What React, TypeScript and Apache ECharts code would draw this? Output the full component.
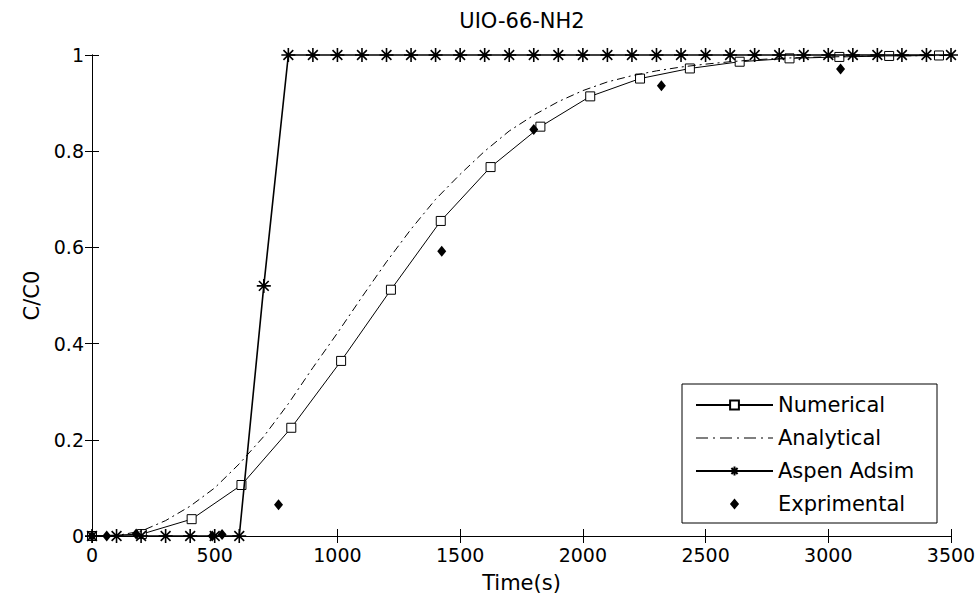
import React, { useEffect, useRef } from "react";
import * as echarts from "echarts";

const titleText = "UIO-66-NH2";
const xName = "Time(s)";
const yName = "C/C0";
const seriesNames = ["Numerical", "Analytical", "Aspen Adsim", "Exprimental"];

const numericalTime = [0, 203, 406, 609, 812, 1015, 1218, 1421, 1624, 1827, 2030, 2233, 2436, 2639, 2842, 3045, 3248, 3451];
const numericalValues = [0, 0.004, 0.035, 0.106, 0.225, 0.364, 0.512, 0.655, 0.767, 0.851, 0.914, 0.951, 0.972, 0.986, 0.993, 0.996, 0.998, 0.999];

const analyticalTime = [0, 100, 200, 300, 400, 500, 600, 700, 800, 900, 1000, 1100, 1200, 1300, 1400, 1500, 1600, 1700, 1800, 1900, 2000, 2100, 2200, 2300, 2400, 2500, 2600, 2700, 2800, 2900, 3000, 3200, 3500];
const analyticalValues = [0, 0.001, 0.01, 0.032, 0.062, 0.1, 0.15, 0.207, 0.275, 0.35, 0.422, 0.497, 0.57, 0.638, 0.7, 0.752, 0.8, 0.842, 0.875, 0.903, 0.926, 0.944, 0.957, 0.967, 0.975, 0.981, 0.986, 0.99, 0.993, 0.995, 0.996, 0.998, 0.999];

const aspenTime = [0, 100, 200, 300, 400, 500, 600, 700, 800, 900, 1000, 1100, 1200, 1300, 1400, 1500, 1600, 1700, 1800, 1900, 2000, 2100, 2200, 2300, 2400, 2500, 2600, 2700, 2800, 2900, 3000, 3100, 3200, 3300, 3400, 3500];
const aspenValues = [0, 0, 0, 0, 0, 0, 0, 0.52, 1, 1, 1, 1, 1, 1, 1, 1, 1, 1, 1, 1, 1, 1, 1, 1, 1, 1, 1, 1, 1, 1, 1, 1, 1, 1, 1, 1];

const expTime = [0, 60, 180, 490, 530, 760, 1425, 1800, 2320, 3050];
const expValues = [0, 0, 0.004, 0, 0.003, 0.065, 0.592, 0.845, 0.936, 0.971];

const xMin = 0;
const xMax = 3500;
const xInterval = 500;
const yMin = 0;
const yMax = 1;
const yInterval = 0.2;

const zip = (xs: number[], ys: number[]) => xs.map((x, i) => [x, ys[i]]);

const FONT = "DejaVu Sans";
const starPath = "path://M6,0L6,12M0,6L12,6M1.8,1.8L10.2,10.2M1.8,10.2L10.2,1.8";
const diamondPath = "path://M5,0L10,6L5,12L0,6Z";
const dashDotIcon =
  "path://M0,0h12v1.2h-12ZM17,0h2v1.2h-2ZM24,0h12v1.2h-12ZM41,0h2v1.2h-2ZM48,0h12v1.2h-12ZM65,0h2v1.2h-2ZM72,0h5v1.2h-5Z";

export default function App() {
  const ref = useRef<HTMLDivElement>(null);

  useEffect(() => {
    document.body.style.margin = "0";
    if (!ref.current) return;
    const chart = echarts.init(ref.current, undefined, { renderer: "svg" });

    const axisCommon = {
      type: "value" as const,
      axisLine: { show: true, lineStyle: { color: "#000", width: 1 } },
      axisTick: { show: true, inside: true, length: 7, lineStyle: { color: "#000", width: 1 } },
      splitLine: { show: false },
    };

    chart.setOption({
      animation: false,
      backgroundColor: "#fff",
      title: {
        text: titleText,
        left: 517,
        top: 5,
        textAlign: "center",
        textStyle: { fontFamily: FONT, fontSize: 21, fontWeight: "normal", color: "#000" },
      },
      grid: { left: 92, right: 25, top: 55, bottom: 62, containLabel: false, outerBoundsMode: "none" },
      graphic: [
        {
          type: "rect",
          shape: { x: 682, y: 384, width: 255, height: 139 },
          style: { fill: "#fff", stroke: "#000", lineWidth: 1 },
          z: 5,
          silent: true,
        },
      ],
      legend: {
        orient: "vertical",
        left: 682,
        top: 384,
        padding: [10, 12, 9, 13],
        itemWidth: 77,
        itemHeight: 11,
        itemGap: 11,
        borderWidth: 0,
        z: 10,
        textStyle: { fontFamily: FONT, fontSize: 21, lineHeight: 22, color: "#000" },
        data: [
          { name: seriesNames[0] },
          { name: seriesNames[1], icon: dashDotIcon },
          { name: seriesNames[2] },
          { name: seriesNames[3] },
        ],
      },
      xAxis: [
        {
          ...axisCommon,
          position: "bottom",
          min: xMin,
          max: xMax,
          interval: xInterval,
          name: xName,
          nameLocation: "middle",
          nameGap: 36,
          nameTextStyle: { fontFamily: FONT, fontSize: 21, color: "#000" },
          axisLabel: {
            margin: 9,
            fontFamily: FONT,
            fontSize: 19,
            color: "#000",
            formatter: (v: number) => String(v),
          },
        },
        {
          ...axisCommon,
          position: "top",
          min: xMin,
          max: xMax,
          interval: xInterval,
          axisLabel: { show: false },
        },
      ],
      yAxis: [
        {
          ...axisCommon,
          position: "left",
          min: yMin,
          max: yMax,
          interval: yInterval,
          name: yName,
          nameLocation: "middle",
          nameGap: 48,
          nameTextStyle: { fontFamily: FONT, fontSize: 21, color: "#000" },
          axisLabel: {
            margin: 8,
            fontFamily: FONT,
            fontSize: 19,
            color: "#000",
            formatter: (v: number) => String(Math.round(v * 10) / 10),
          },
        },
        {
          ...axisCommon,
          position: "right",
          min: yMin,
          max: yMax,
          interval: yInterval,
          axisLabel: { show: false },
        },
      ],
      series: [
        {
          name: seriesNames[0],
          type: "line",
          data: zip(numericalTime, numericalValues),
          symbol: "rect",
          symbolSize: 9,
          clip: false,
          lineStyle: { color: "#000", width: 1 },
          itemStyle: { color: "#fff", borderColor: "#000", borderWidth: 1 },
          z: 2,
        },
        {
          name: seriesNames[1],
          type: "line",
          data: zip(analyticalTime, analyticalValues),
          symbol: "none",
          clip: false,
          lineStyle: { color: "#000", width: 1, type: [8, 4, 2, 4] },
          itemStyle: { color: "#000" },
          z: 3,
        },
        {
          name: seriesNames[2],
          type: "line",
          data: zip(aspenTime, aspenValues),
          symbol: starPath,
          symbolSize: 14,
          clip: false,
          lineStyle: { color: "#000", width: 1.6 },
          itemStyle: { color: "#000", borderColor: "#000", borderWidth: 1.6 },
          z: 4,
        },
        {
          name: seriesNames[3],
          type: "scatter",
          data: zip(expTime, expValues),
          symbol: diamondPath,
          symbolSize: [9, 11],
          clip: false,
          itemStyle: { color: "#000", opacity: 1 },
          z: 6,
        },
      ],
    });

    return () => chart.dispose();
  }, []);

  return (
    <div
      ref={ref}
      style={{ position: "absolute", left: 0, top: 0, width: 976, height: 598, background: "#fff" }}
    />
  );
}
